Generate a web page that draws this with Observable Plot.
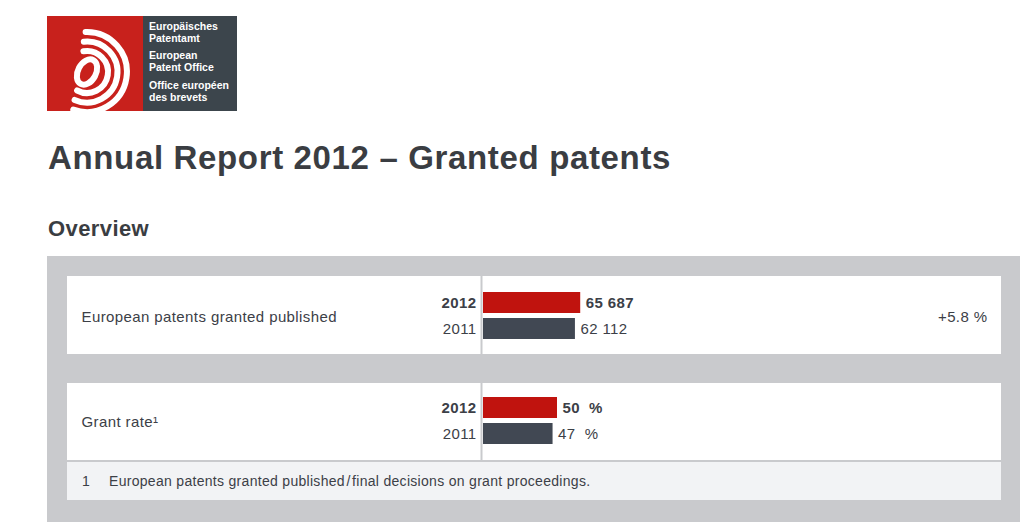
<!DOCTYPE html>
<html><head><meta charset="utf-8">
<script src="https://cdn.jsdelivr.net/npm/d3@7"></script>
<script src="https://cdn.jsdelivr.net/npm/@observablehq/plot@0.6"></script>
<style>
body{margin:0;background:#fff;font-family:"Liberation Sans",Arial,sans-serif;color:#3c4047;width:1024px;height:522px;overflow:hidden;position:relative}
#logo{position:absolute;left:47px;top:16px;width:190px;height:95px}
h1{position:absolute;left:48px;top:141px;margin:0;font-size:33px;line-height:33px;letter-spacing:0.65px;font-weight:bold;color:#3a3d42;white-space:nowrap}
h2{position:absolute;left:48px;top:218px;margin:0;font-size:22px;line-height:22px;letter-spacing:0.4px;font-weight:bold;color:#3a3d42}
#panel{position:absolute;left:47px;top:256px;width:973px;height:266px;background:#c9cacd}
.card{position:absolute;left:20px;width:934px;background:#fff}
.card svg{display:block}
.card svg text{letter-spacing:0.4px}
#foot{position:absolute;left:20px;top:206px;width:934px;height:38px;background:#f2f3f5;font-size:14px;line-height:38px;letter-spacing:0.3px;color:#3c4047;white-space:nowrap}
#foot span{position:absolute}
</style></head><body>
<div id="logo"></div>
<h1>Annual Report 2012 – Granted patents</h1>
<h2>Overview</h2>
<div id="panel">
  <div class="card" id="c1" style="top:20px;height:78px"></div>
  <div class="card" id="c2" style="top:127px;height:77px"></div>
  <div id="foot"><span style="left:15px">1</span><span style="left:42px">European patents granted published&#8202;/&#8202;final decisions on grant proceedings.</span></div>
</div>
<script>
// ---- data ----
const years = ["2012", "2011"];
const grantedValues = [65687, 62112];
const grantRateValues = [50, 47];
const cardLabels = ["European patents granted published", "Grant rate\u00b9"];
const grantedChange = "+5.8\u00a0%";

const RED = "#c0130e", DARK = "#414853", TXT = "#3c4047", GRID = "#c9cacd";
const locale = d3.formatLocale({decimal: ".", thousands: "\u00a0", grouping: [3], currency: ["", ""]});
const fmtThousands = locale.format(",d");

function card(el, {label, values, domainMax, fmt, change, height, yRange, labelDy}) {
  const rows = years.map((y, i) => ({year: y, value: values[i]}));
  const cur = rows.filter(d => d.year === years[0]);
  const prev = rows.filter(d => d.year !== years[0]);
  const chart = Plot.plot({
    width: 934, height,
    marginLeft: 0, marginRight: 0, marginTop: 0, marginBottom: 0,
    style: {fontFamily: "Liberation Sans, Arial, sans-serif", fontSize: "15px", color: TXT, background: "transparent"},
    x: {domain: [0, domainMax], range: [416, 564], axis: null},
    y: {domain: years, range: yRange, paddingInner: 0.19, paddingOuter: 0.095, axis: null},
    color: {domain: years, range: [RED, DARK]},
    marks: [
      Plot.ruleX([0], {dx: -2, stroke: GRID, strokeWidth: 2, strokeOpacity: 1}),
      Plot.barX(rows, {x: "value", y: "year", fill: "year"}),
      Plot.text(cur, {x: 0, y: "year", text: "year", textAnchor: "end", dx: -7, fontWeight: "bold", fill: TXT}),
      Plot.text(prev, {x: 0, y: "year", text: "year", textAnchor: "end", dx: -7, fill: TXT}),
      Plot.text(cur, {x: "value", y: "year", text: d => fmt(d.value), textAnchor: "start", dx: 5, fontWeight: "bold", fill: TXT}),
      Plot.text(prev, {x: "value", y: "year", text: d => fmt(d.value), textAnchor: "start", dx: 5, fill: TXT}),
      Plot.text([label], {frameAnchor: "left", dx: 14, dy: labelDy, text: d => d, textAnchor: "start", fill: TXT}),
      ...(change ? [Plot.text([change], {frameAnchor: "right", dx: -14, dy: labelDy, text: d => d, textAnchor: "end", fill: TXT})] : [])
    ]
  });
  el.appendChild(chart);
}

card(document.getElementById("c1"), {label: cardLabels[0], values: grantedValues, domainMax: 100000,
  fmt: fmtThousands, change: grantedChange, height: 78, yRange: [13.5, 65.5], labelDy: 2});
card(document.getElementById("c2"), {label: cardLabels[1], values: grantRateValues, domainMax: 100,
  fmt: v => v + "\u00a0\u00a0%", change: null, height: 77, yRange: [12, 64], labelDy: 0});

// ---- logo (decorative) ----
(function(){
  const cx = 40, cy = 56;
  function arc(r, a0, a1) {
    const t0 = a0 * Math.PI / 180, t1 = a1 * Math.PI / 180;
    const x0 = cx + r * Math.cos(t0), y0 = cy + r * Math.sin(t0);
    const x1 = cx + r * Math.cos(t1), y1 = cy + r * Math.sin(t1);
    return `M${x0.toFixed(1)},${y0.toFixed(1)}A${r},${r} 0 ${a1 - a0 > 180 ? 1 : 0} 1 ${x1.toFixed(1)},${y1.toFixed(1)}`;
  }
  const arcs = [[21, -100, 118], [30.5, -96, 114], [40, -92, 110]]
    .map(([r, a, b]) => `<path d="${arc(r, a, b)}" fill="none" stroke="#fff" stroke-width="6" stroke-linecap="round"/>`).join("");
  const lines = [["Europäisches", 14], ["Patentamt", 26], ["European", 43], ["Patent Office", 55], ["Office européen", 73], ["des brevets", 85]]
    .map(([t, y]) => `<text x="102" y="${y}">${t}</text>`).join("");
  document.getElementById("logo").innerHTML =
    `<svg width="190" height="95" viewBox="0 0 190 95">
      <rect x="0" y="0" width="96" height="95" fill="#c8211c"/>
      <rect x="96" y="0" width="94" height="95" fill="#3c454c"/>
      <ellipse cx="${cx}" cy="${cy}" rx="9" ry="13.5" transform="rotate(28 ${cx} ${cy})" fill="none" stroke="#fff" stroke-width="6"/>
      ${arcs}
      <g fill="#fff" font-family="Liberation Sans, Arial, sans-serif" font-weight="bold" font-size="10.5px">${lines}</g>
    </svg>`;
})();
</script>
</body></html>
